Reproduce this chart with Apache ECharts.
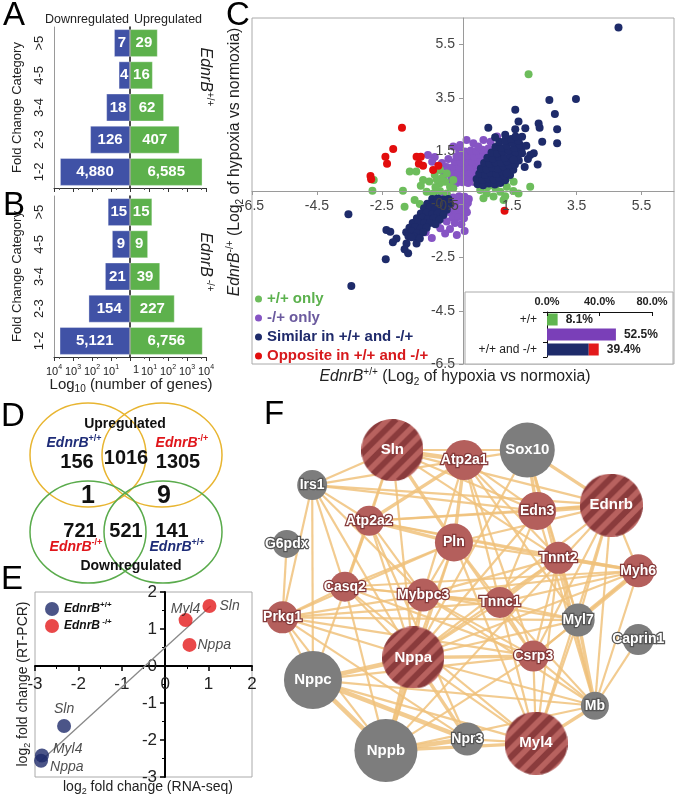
<!DOCTYPE html>
<html><head><meta charset="utf-8">
<script src="https://cdn.jsdelivr.net/npm/echarts@6/dist/echarts.min.js"></script>
<style>html,body{margin:0;padding:0;background:#fff}#c{width:677px;height:795px}</style>
</head><body><div id="c"></div>
<script>
const FONT = '"Liberation Sans", Arial, Helvetica, sans-serif';

// ---------- Panels A & B : pyramid of fold-change categories ----------
const foldCategories = ['1-2', '2-3', '3-4', '4-5', '>5'];
const wtDown = [4880, 126, 18, 4, 7];
const wtUp = [6585, 407, 62, 16, 29];
const koDown = [5121, 154, 21, 9, 15];
const koUp = [6756, 227, 39, 9, 15];

// ---------- Panel C : scatter (log2 hypoxia vs normoxia) ----------
const cAxisTicks = [-6.5, -4.5, -2.5, -0.5, 1.5, 3.5, 5.5];
const cPurple = [
  [-0.38,0.32],[-0.2,0.3],[-0.02,0.33],[0.16,0.3],[0.34,0.34],[0.5,0.3],
  [-0.36,0.5],[-0.18,0.52],[0.0,0.49],[0.18,0.53],[0.36,0.5],[0.52,0.55],
  [-0.33,0.7],[-0.15,0.68],[0.03,0.72],[0.21,0.7],[0.39,0.74],[0.55,0.72],
  [-0.3,0.9],[-0.12,0.88],[0.06,0.92],[0.24,0.9],[0.42,0.93],[0.6,0.95],
  [-0.25,1.1],[-0.07,1.08],[0.11,1.12],[0.29,1.1],[0.47,1.14],[0.65,1.15],
  [-0.2,1.3],[-0.02,1.28],[0.16,1.32],[0.34,1.3],[0.52,1.35],[0.7,1.38],
  [-0.12,1.5],[0.06,1.48],[0.24,1.52],[0.42,1.5],[0.6,1.55],[0.78,1.6],
  [-0.3,1.67],[-0.09,1.73],[0.11,1.92],[0.32,1.79],[0.47,1.67],[0.63,1.92],[0.85,1.85],[1.05,2.05],
  [-0.5,0.9],[-0.65,1.05],[-0.87,1.28],[-1.08,1.35],[-0.72,0.82],[-0.45,1.2],[-0.95,1.1],[-0.58,0.62],
  [-0.65,-0.22],[-0.48,-0.2],[-0.3,-0.24],[-0.12,-0.2],[0.05,-0.22],[0.18,-0.3],
  [-0.55,-0.4],[-0.38,-0.42],[-0.2,-0.38],[-0.02,-0.42],[0.15,-0.45],
  [-0.45,-0.6],[-0.28,-0.58],[-0.1,-0.62],[0.08,-0.6],
  [-0.4,-0.8],[-0.22,-0.78],[-0.04,-0.82],[0.12,-0.8],
  [-0.32,-1.0],[-0.14,-0.98],[0.03,-1.02],
  [-0.5,-1.15],[-0.25,-1.2],[-0.05,-1.25],
  [-0.4,-1.43],[-0.19,-1.65],[-0.96,-1.77],[-0.7,-1.4],[-0.55,-1.6],[0.05,-1.5],[-1.15,-1.55],[-0.8,-1.2]
];
const cGreen = [
  [-1.64,0.73],[-1.44,0.73],[-1.23,0.41],[-1.04,0.36],[-0.87,0.6],[-0.71,0.29],[-1.12,-0.03],
  [-0.92,-0.09],[-0.71,0.0],[-0.5,-0.09],[-0.4,0.16],[-0.55,0.35],[-0.65,0.49],[-0.81,0.43],
  [-0.3,0.41],[-0.5,0.66],[-0.71,0.79],[-1.85,0.01],[-2.79,0.01],[-2.75,0.41],[-1.33,-0.49],
  [-1.49,-0.34],[-1.8,-0.59],[-0.3,0.1],[-0.85,0.15],[-1.3,0.2],
  [0.53,0.04],[0.73,-0.09],[0.94,-0.21],[1.15,-0.03],[1.35,0.16],[1.56,0.35],[0.63,-0.27],
  [0.84,0.23],[1.09,0.35],[1.71,-0.09],[2.07,0.16],[2.02,4.39],[1.4,0.54],[0.45,0.3],[1.25,-0.34],
  [1.0,0.1],[1.3,-0.2],[1.55,0.0],[0.75,0.15]
];
const cNavy = [
  [0.45,0.25],[0.62,0.22],[0.8,0.28],[0.98,0.24],[1.15,0.3],[1.3,0.4],
  [0.42,0.45],[0.6,0.42],[0.78,0.48],[0.95,0.44],[1.12,0.5],[1.28,0.56],[1.45,0.6],
  [0.5,0.65],[0.68,0.62],[0.85,0.68],[1.02,0.64],[1.2,0.72],[1.38,0.78],[1.55,0.8],
  [0.55,0.85],[0.72,0.82],[0.9,0.88],[1.08,0.85],[1.25,0.92],[1.42,0.98],[1.6,1.0],[1.72,1.15],
  [0.65,1.05],[0.82,1.02],[1.0,1.08],[1.18,1.05],[1.35,1.12],[1.52,1.18],[1.68,1.3],
  [0.75,1.25],[0.92,1.22],[1.1,1.28],[1.28,1.25],[1.45,1.35],[1.62,1.45],[1.8,1.55],
  [0.88,1.45],[1.05,1.42],[1.22,1.48],[1.4,1.52],[1.58,1.62],[1.75,1.75],
  [1.0,1.65],[1.18,1.62],[1.35,1.7],[1.52,1.8],[1.7,1.9],
  [1.12,1.85],[1.3,1.9],[1.48,1.95],[1.62,2.05],
  [4.79,6.14],[3.48,3.46],[2.66,3.42],[1.61,3.05],[2.83,2.89],[2.9,2.32],[2.9,1.79],[2.33,2.54],
  [2.36,2.38],[2.44,1.85],[2.18,1.42],[2.07,1.35],[2.3,1.0],[0.78,2.38],[1.61,2.32],[1.71,2.61],
  [1.92,2.36],[0.99,2.02],[1.3,2.11],[1.82,2.04],[1.82,1.42],[1.56,1.17],[1.35,0.67],[1.95,1.7],
  [2.0,1.2],[1.9,0.9],
  [-0.95,-0.3],[-0.78,-0.28],[-0.6,-0.32],[-0.45,-0.3],
  [-1.1,-0.48],[-0.92,-0.45],[-0.75,-0.5],[-0.58,-0.48],[-0.42,-0.5],
  [-1.2,-0.65],[-1.02,-0.62],[-0.85,-0.68],[-0.68,-0.65],[-0.5,-0.7],
  [-1.3,-0.85],[-1.12,-0.82],[-0.95,-0.88],[-0.78,-0.85],[-0.6,-0.9],
  [-1.42,-1.02],[-1.25,-1.0],[-1.08,-1.05],[-0.9,-1.02],[-0.72,-1.08],
  [-1.55,-1.2],[-1.38,-1.18],[-1.2,-1.22],[-1.02,-1.2],[-0.85,-1.25],
  [-1.65,-1.38],[-1.48,-1.35],[-1.3,-1.4],[-1.12,-1.38],
  [-1.75,-1.55],[-1.58,-1.52],[-1.4,-1.58],[-1.22,-1.55],
  [-1.68,-1.7],[-1.5,-1.72],
  [-2.36,-1.47],[-2.24,-1.53],[-2.05,-1.78],[-2.16,-1.93],[-1.74,-1.97],[-1.8,-2.19],[-1.69,-2.34],
  [-1.59,-1.74],[-1.43,-1.97],[-1.33,-1.78],[-2.38,-2.56],[-3.53,-0.87],[-3.44,-3.57]
];
const cRed = [
  [-1.88,2.38],[-2.15,1.58],[-2.39,1.29],[-2.34,1.02],[-2.85,0.56],[-2.83,0.44],
  [-1.43,1.29],[-1.3,1.29],[-1.36,1.02],[-1.23,0.95],[-0.92,0.79],[-0.76,0.95],[1.28,-0.74]
];
// inset of panel C (percent of genes)
const insetCategories = ['+/+', '-/+', '+/+ and -/+'];
const insetWT = [8.1, null, null];
const insetKO = [null, 52.5, null];
const insetSimilar = [null, null, 31.8];
const insetOpposite = [null, null, 7.6];
const insetTotals = [8.1, 52.5, 39.4];

// ---------- Panel D : Venn counts ----------
const vennNumbers = [156, 1016, 1305, 1, 9, 721, 521, 141];

// ---------- Panel E : RT-PCR vs RNA-seq ----------
const eGenes = ['Sln', 'Myl4', 'Nppa'];
const eWtRna = [-2.33, -2.84, -2.86];
const eWtPcr = [-1.62, -2.42, -2.56];
const eKoRna = [1.02, 0.47, 0.56];
const eKoPcr = [1.62, 1.24, 0.57];
const eFitX = [-2.9, 1.05];
const eFitY = [-2.6, 1.62];

// ---------- Panel F : network ----------
const fGenes = ['Sln','Atp2a1','Sox10','Irs1','Atp2a2','Edn3','Ednrb','G6pdx','Pln','Tnnt2','Myh6','Casq2','Mybpc3','Tnnc1','Prkg1','Myl7','Caprin1','Nppa','Csrp3','Nppc','Mb','Nppb','Npr3','Myl4'];
const fX = [32.2,51.1,67.7,11.1,26.1,70.3,89.8,4.4,48.4,75.9,96.9,19.7,40.3,60.5,3.3,81.1,96.9,37.7,69.3,11.3,85.5,30.5,51.9,70.0];
const fY = [5.9,8.8,5.9,16.2,26.7,23.8,22.1,33.5,33.1,37.6,41.4,46.1,48.5,50.7,55.1,55.9,61.6,66.9,66.5,73.5,81.1,94.3,90.9,92.1];
const fWeight = [62,40,55,30,30,38,63,28,38,32,33,30,33,31,32,33,31,62,31,58,28,63,33,63];
const fKind = ['s','r','g','g','r','r','s','g','r','r','r','r','r','r','r','g','g','s','r','g','g','g','g','s'];
const fEdges = [
['Sln','Atp2a1',3],['Sln','Irs1',1],['Sln','Atp2a2',1],['Sln','Pln',2],['Sln','Sox10',1],['Sln','Edn3',1],['Sln','Ednrb',1],['Sln','Tnnt2',1],['Sln','Casq2',1],['Sln','Nppa',1],
['Atp2a1','Sox10',1],['Atp2a1','Pln',2],['Atp2a1','Atp2a2',2],['Atp2a1','Tnnt2',1],['Atp2a1','Csrp3',1],['Atp2a1','Tnnc1',1],['Atp2a1','Mybpc3',1],['Atp2a1','Myl7',1],['Atp2a1','Edn3',1],['Atp2a1','Irs1',1],
['Sox10','Edn3',2],['Sox10','Ednrb',2],['Sox10','Myl7',1],['Sox10','Nppa',1],['Sox10','Tnnt2',1],['Sox10','Mb',1],
['Edn3','Ednrb',3],['Edn3','Irs1',1],['Edn3','Atp2a2',1],['Edn3','Nppa',1],['Edn3','Tnnc1',1],['Edn3','Mb',1],
['Ednrb','Irs1',1],['Ednrb','Myh6',1],['Ednrb','Nppa',1],['Ednrb','Csrp3',1],['Ednrb','Myl7',1],['Ednrb','Nppb',1],['Ednrb','Myl4',1],['Ednrb','Pln',1],['Ednrb','Mb',1],['Ednrb','Atp2a2',1],
['Irs1','Atp2a2',1],['Irs1','Prkg1',1],['Irs1','Casq2',1],['Irs1','Mybpc3',1],['Irs1','Nppa',1],['Irs1','Nppc',1],
['G6pdx','Prkg1',1],
['Atp2a2','Pln',2],['Atp2a2','Casq2',1],['Atp2a2','Tnnt2',1],['Atp2a2','Mybpc3',1],['Atp2a2','Nppa',1],['Atp2a2','Npr3',1],['Atp2a2','Myh6',1],['Atp2a2','Nppc',1],
['Pln','Tnnc1',1],['Pln','Mybpc3',1],['Pln','Nppa',1],['Pln','Myh6',1],['Pln','Csrp3',1],['Pln','Casq2',1],['Pln','Prkg1',1],['Pln','Myl4',1],['Pln','Nppb',1],
['Tnnt2','Myh6',2],['Tnnt2','Tnnc1',2],['Tnnt2','Myl7',1],['Tnnt2','Mb',1],['Tnnt2','Nppa',1],['Tnnt2','Mybpc3',1],['Tnnt2','Csrp3',1],['Tnnt2','Myl4',1],
['Myh6','Myl7',3],['Myh6','Nppa',1],['Myh6','Csrp3',1],['Myh6','Mb',1],['Myh6','Mybpc3',1],['Myh6','Tnnc1',1],['Myh6','Casq2',1],
['Casq2','Prkg1',1],['Casq2','Mybpc3',1],['Casq2','Tnnc1',1],['Casq2','Nppa',1],['Casq2','Nppb',1],['Casq2','Csrp3',1],['Casq2','Myl4',1],
['Mybpc3','Tnnc1',2],['Mybpc3','Nppa',1],['Mybpc3','Myl7',1],['Mybpc3','Csrp3',1],['Mybpc3','Prkg1',1],['Mybpc3','Mb',1],['Mybpc3','Nppb',1],
['Tnnc1','Csrp3',1],['Tnnc1','Myl7',1],['Tnnc1','Nppa',1],['Tnnc1','Myl4',1],['Tnnc1','Prkg1',1],['Tnnc1','Mb',1],
['Prkg1','Nppa',1],['Prkg1','Nppc',1],['Prkg1','Nppb',1],['Prkg1','Csrp3',1],['Prkg1','Myl7',1],['Prkg1','Npr3',1],
['Myl7','Csrp3',1],['Myl7','Mb',2],['Myl7','Nppa',1],['Myl7','Myl4',1],
['Caprin1','Mb',1],
['Nppa','Nppb',3],['Nppa','Nppc',3],['Nppa','Npr3',2],['Nppa','Myl4',1],['Nppa','Csrp3',2],['Nppa','Mb',1],
['Csrp3','Myl4',1],['Csrp3','Mb',1],['Csrp3','Nppb',1],['Csrp3','Nppc',1],
['Nppc','Nppb',3],['Nppc','Npr3',3],['Nppc','Myl4',1],['Nppc','Mb',1],
['Nppb','Npr3',3],['Nppb','Myl4',2],['Nppb','Mb',1],
['Npr3','Myl4',1],['Mb','Myl4',2]
];

// ================= styling helpers =================
const BLUE = '#4052a6', GREEN = '#5db14c';
const C_GREEN = '#6dbd5c', C_PURPLE = '#8654c4', C_NAVY = '#1e2b6a', C_RED = '#e20d0d';
const NAVY_TXT = '#1f2d78', RED_TXT = '#e0161b';

function fmt(n) { return String(n).replace(/\B(?=(\d{3})+(?!\d))/g, ','); }

function zrRich(size, color, weight) {
  weight = weight || 'normal';
  const s = Math.round(size * 0.64);
  return {
    n: {fontFamily: FONT, fontSize: size, fontWeight: weight, fill: color, lineHeight: size + 4},
    i: {fontFamily: FONT, fontSize: size, fontWeight: weight, fontStyle: 'italic', fill: color, lineHeight: size + 4},
    sup: {fontFamily: FONT, fontSize: s, fontWeight: weight, fill: color, lineHeight: s, verticalAlign: 'top'},
    sub: {fontFamily: FONT, fontSize: s, fontWeight: weight, fill: color, lineHeight: s, verticalAlign: 'bottom'}
  };
}
function ecRich(size, color, weight, italic) {
  const s = Math.round(size * 0.64);
  return {
    i: {fontFamily: FONT, fontSize: size, fontWeight: weight, fontStyle: italic ? 'italic' : 'normal', color, lineHeight: size + 4},
    sup: {fontFamily: FONT, fontSize: s, fontWeight: weight, color, lineHeight: s, verticalAlign: 'top'}
  };
}

const graphics = [];
function addText(x, y, text, size, color, o) {
  o = o || {};
  graphics.push({
    type: 'text', x, y, rotation: o.rot || 0, z: 50, silent: true,
    style: {text, fontFamily: FONT, fontSize: size, fontWeight: o.weight || 'normal',
      fill: color, align: 'center', verticalAlign: 'middle', rich: zrRich(size, color, o.weight)}
  });
}
function addEllipse(cx, cy, rx, ry, color) {
  graphics.push({type: 'ellipse', silent: true, z: 5, shape: {cx, cy, rx, ry},
    style: {fill: 'none', stroke: color, lineWidth: 1.5}});
}

// panel letters
addText(14, 16, 'A', 33, '#000');
addText(14, 206, 'B', 33, '#000');
addText(238, 16, 'C', 33, '#000');
addText(13, 417, 'D', 33, '#000');
addText(12, 580, 'E', 33, '#000');
addText(274, 415, 'F', 33, '#000');

// A/B headers & side labels
addText(87, 20, 'Downregulated', 12.5, '#222');
addText(168, 20, 'Upregulated', 12.5, '#222');
addText(205, 77, '{i|EdnrB}{sup|+/+}', 16, '#222', {rot: -Math.PI / 2});
addText(205, 262, '{i|EdnrB}{sup| -/+}', 16, '#222', {rot: -Math.PI / 2});
addText(131, 385, '{n|Log}{sub|10}{n| (number of genes)}', 15, '#222');

// C axis names and inset frame
addText(455, 377, '{i|EdnrB}{sup|+/+}{n| (Log}{sub|2}{n| of hypoxia vs normoxia)}', 15.8, '#222');
addText(235, 162, '{i|EdnrB}{sup|-/+}{n| (Log}{sub|2}{n| of hypoxia vs normoxia)}', 15.8, '#222', {rot: Math.PI / 2});
graphics.push({type: 'rect', silent: true, z: 1, shape: {x: 465, y: 292, width: 208, height: 72},
  style: {fill: '#fff', stroke: '#aaa', lineWidth: 1}});

// D Venn diagram
addEllipse(88, 455, 58, 52, '#e8b531');
addEllipse(162, 455, 60, 52, '#e8b531');
addEllipse(88, 532, 58, 51, '#5aab4c');
addEllipse(163, 532, 59, 51, '#5aab4c');
addText(125, 424, 'Upregulated', 14, '#111', {weight: 'bold'});
addText(131, 566, 'Downregulated', 14, '#111', {weight: 'bold'});
addText(74, 443, '{i|EdnrB}{sup|+/+}', 14, NAVY_TXT, {weight: 'bold'});
addText(182, 443, '{i|EdnrB}{sup|-/+}', 14, RED_TXT, {weight: 'bold'});
addText(76, 547, '{i|EdnrB}{sup|-/+}', 14, RED_TXT, {weight: 'bold'});
addText(177, 547, '{i|EdnrB}{sup|+/+}', 14, NAVY_TXT, {weight: 'bold'});
const vennPos = [[77, 462], [126, 458], [178, 462], [88, 496], [164, 496], [80, 531], [126, 531], [172, 531]];
const vennSize = [20, 20, 20, 25, 25, 20, 20, 20];
vennNumbers.forEach((v, k) => addText(vennPos[k][0], vennPos[k][1], String(v), vennSize[k], '#111', {weight: 'bold'}));

// E axis names
addText(23, 684, '{n|log}{sub|2}{n| fold change (RT-PCR)}', 14, '#222', {rot: Math.PI / 2});
addText(148, 787, '{n|log}{sub|2}{n| fold change (RNA-seq)}', 14, '#222');

// ================= axes =================
function logAxis(gi, inverse, showLabels) {
  return {
    type: 'log', gridIndex: gi, min: 1, max: 10000, logBase: 10, inverse,
    axisLine: {show: true, lineStyle: {color: '#333'}},
    axisTick: {show: true, length: 4, lineStyle: {color: '#333'}},
    minorTick: {show: true, splitNumber: 2, length: 2, lineStyle: {color: '#555'}},
    splitLine: {show: false},
    axisLabel: {
      show: showLabels, fontFamily: FONT, fontSize: 11, color: '#222', margin: 7,
      alignMinLabel: inverse ? 'right' : 'left',
      formatter: v => v === 1 ? '{one|1}' : '{i|10}{sup|' + Math.round(Math.log10(v)) + '}',
      rich: Object.assign(ecRich(11, '#222', 'normal', false), {
        one: {fontFamily: FONT, fontSize: 11, color: '#222', padding: inverse ? [0, 12, 0, 0] : [0, 0, 0, 3]}
      })
    }
  };
}
function catAxis(gi, main) {
  return {
    type: 'category', gridIndex: gi, data: foldCategories,
    axisLine: {show: true, lineStyle: main ? {color: '#999'} : {color: '#111', width: 1.5}},
    axisTick: {show: false},
    axisLabel: main ? {show: true, rotate: 90, fontFamily: FONT, fontSize: 13, color: '#222', margin: 8} : {show: false},
    name: main ? 'Fold Change Category' : '',
    nameLocation: 'middle', nameGap: 30, nameRotate: 90,
    nameTextStyle: {fontFamily: FONT, fontSize: 13, color: '#222'}
  };
}
function pyramidBar(idx, data, color) {
  return {
    type: 'bar', xAxisIndex: idx, yAxisIndex: idx, data, barWidth: 28, silent: true,
    itemStyle: {color, borderColor: 'rgba(255,255,255,0.35)', borderWidth: 1},
    label: {show: true, position: 'inside', color: '#fff', fontFamily: FONT, fontWeight: 'bold', fontSize: 15,
      formatter: p => fmt(p.value)}
  };
}

// C axes: lines pass through the origin (offset from grid edge)
function cAxis(offset) {
  return {
    type: 'value', gridIndex: 4, min: -6.5, max: 6.5, offset, z: 4,
    axisLine: {onZero: false, lineStyle: {color: '#9a9a9a'}},
    axisTick: {show: true, length: 4, customValues: cAxisTicks, lineStyle: {color: '#9a9a9a'}},
    axisLabel: {fontFamily: FONT, fontSize: 14, color: '#444', customValues: cAxisTicks, margin: 8},
    splitLine: {show: false}
  };
}
function eAxis(offset, margin) {
  return {
    type: 'value', gridIndex: 6, min: -3, max: 2, interval: 1, offset,
    axisLine: {onZero: false, lineStyle: {color: '#000', width: 2}},
    axisTick: {show: true, length: 5, lineStyle: {color: '#000', width: 1.5}},
    minorTick: {show: true, splitNumber: 2, length: 3, lineStyle: {color: '#000'}},
    axisLabel: {fontFamily: FONT, fontSize: 17, color: '#222', margin},
    splitLine: {show: false}
  };
}

// ================= series =================
const series = [
  pyramidBar(0, wtDown, BLUE), pyramidBar(1, wtUp, GREEN),
  pyramidBar(2, koDown, BLUE), pyramidBar(3, koUp, GREEN)
];
function cScatter(name, data, color) {
  return {type: 'scatter', name, xAxisIndex: 4, yAxisIndex: 4, data, symbolSize: 8, silent: true,
    itemStyle: {color, opacity: 1}};
}
series.push(cScatter('-/+ only', cPurple, C_PURPLE));
series.push(cScatter('+/+ only', cGreen, C_GREEN));
series.push(cScatter('Similar in +/+ and -/+', cNavy, C_NAVY));
series.push(cScatter('Opposite in +/+ and -/+', cRed, C_RED));

function insetBar(data, color, withLabel) {
  return {type: 'bar', xAxisIndex: 5, yAxisIndex: 5, stack: 'inset', data, barWidth: 12, silent: true, z: 6,
    itemStyle: {color},
    label: {show: withLabel, position: 'right', distance: 8, fontFamily: FONT, fontWeight: 'bold', fontSize: 12, color: '#222',
      formatter: p => insetTotals[p.dataIndex].toFixed(1) + '%'}};
}
series.push(insetBar(insetWT, '#5fb54f', true));
series.push(insetBar(insetKO, '#7a3fb8', true));
series.push(insetBar(insetSimilar, '#1e2b6a', false));
series.push(insetBar(insetOpposite, '#e31a1c', true));

const eLabelPosWt = [{position: 'top', distance: 3}, {position: 'right', distance: 4, offset: [0, -6]}, {position: 'right', distance: 2, offset: [0, 6]}];
const eLabelPosKo = [{position: 'right', distance: 3}, {position: 'top', distance: -3}, {position: 'right', distance: 1}];
const eLabel = {show: true, fontFamily: FONT, fontSize: 14, fontStyle: 'italic', color: '#222', formatter: p => eGenes[p.dataIndex]};
series.push({type: 'line', xAxisIndex: 6, yAxisIndex: 6, data: eFitX.map((x, k) => [x, eFitY[k]]), symbol: 'none', silent: true,
  lineStyle: {color: '#888', width: 1.3}, z: 1});
series.push({type: 'scatter', name: 'e_wt', xAxisIndex: 6, yAxisIndex: 6, symbolSize: 14, silent: true,
  itemStyle: {color: '#1e2b6a'}, label: eLabel,
  data: eWtRna.map((x, k) => ({value: [x, eWtPcr[k]], label: eLabelPosWt[k]}))});
series.push({type: 'scatter', name: 'e_ko', xAxisIndex: 6, yAxisIndex: 6, symbolSize: 14, silent: true,
  itemStyle: {color: '#e31a1c'}, label: eLabel,
  data: eKoRna.map((x, k) => ({value: [x, eKoPcr[k]], label: eLabelPosKo[k]}))});

// network: striped circle symbol for validated genes
function stripedCircleSymbol() {
  const S = 128, c = document.createElement('canvas');
  c.width = S; c.height = S;
  const g = c.getContext('2d');
  g.beginPath(); g.arc(S / 2, S / 2, S / 2, 0, Math.PI * 2); g.closePath(); g.clip();
  g.fillStyle = '#b8625f'; g.fillRect(0, 0, S, S);
  g.strokeStyle = '#8a3b3c'; g.lineWidth = 12;
  g.beginPath();
  for (let o = -S + 6; o < 2 * S; o += 33) { g.moveTo(o, S); g.lineTo(o + S, 0); }
  g.stroke();
  return 'image://' + c.toDataURL();
}
const stripedSymbol = stripedCircleSymbol();
const kindColor = {r: '#b45f5c', g: '#7d7d7d', s: '#a4504e'};
const kindBorder = {r: '#853a3a', g: '#555', s: '#7a3434'};
const fNodes = fGenes.map((name, k) => ({
  name, value: [fX[k], fY[k]], symbolSize: fWeight[k],
  symbol: fKind[k] === 's' ? stripedSymbol : 'circle',
  itemStyle: {color: kindColor[fKind[k]]},
  label: {show: true, position: 'inside', color: '#fff', fontFamily: FONT, fontWeight: 'bold',
    fontSize: fWeight[k] > 50 ? 15 : 14,
    textBorderColor: fWeight[k] > 50 ? 'transparent' : kindBorder[fKind[k]], textBorderWidth: fWeight[k] > 50 ? 0 : 2.5}
}));
const fLinks = fEdges.map(e => ({source: e[0], target: e[1], lineStyle: {width: 1 + e[2] * 1.2}}));
series.push({
  type: 'graph', coordinateSystem: 'cartesian2d', xAxisIndex: 7, yAxisIndex: 7, silent: true, z: 3,
  data: fNodes, links: fLinks,
  lineStyle: {color: '#f0c27d', opacity: 0.85, curveness: 0},
  emphasis: {disabled: true}
});

const option = {
  animation: false,
  textStyle: {fontFamily: FONT},
  grid: [
    {left: 54, top: 27, width: 76, height: 161},
    {left: 130, top: 27, width: 76, height: 161},
    {left: 54, top: 196, width: 76, height: 161},
    {left: 130, top: 196, width: 76, height: 161},
    {left: 252, top: 18, width: 422, height: 346, show: true, borderColor: '#aaa', borderWidth: 1},
    {left: 547, top: 312, width: 105, height: 45},
    {left: 35, top: 592, width: 217, height: 185, show: true, borderColor: '#aaa', borderWidth: 1},
    {left: 270, top: 430, width: 380, height: 340}
  ],
  xAxis: [
    logAxis(0, true, false), logAxis(1, false, false), logAxis(2, true, true), logAxis(3, false, true),
    cAxis(-173),
    {type: 'value', gridIndex: 5, min: 0, max: 80, interval: 40, position: 'top', z: 6,
      axisLine: {show: true, lineStyle: {color: '#111'}}, axisTick: {show: true, inside: true, length: 4, lineStyle: {color: '#111'}},
      axisLabel: {fontFamily: FONT, fontSize: 11, fontWeight: 'bold', color: '#222', margin: 5, formatter: v => v.toFixed(1) + '%'},
      splitLine: {show: false}},
    eAxis(-111, 10),
    {type: 'value', gridIndex: 7, min: 0, max: 100, show: false}
  ],
  yAxis: [
    catAxis(0, true), catAxis(1, false), catAxis(2, true), catAxis(3, false),
    cAxis(-211),
    {type: 'category', gridIndex: 5, data: insetCategories, inverse: true, z: 6,
      axisLine: {show: true, lineStyle: {color: '#111'}}, axisTick: {show: true, length: 4, lineStyle: {color: '#111'}},
      axisLabel: {fontFamily: FONT, fontSize: 12, color: '#222', margin: 10}},
    eAxis(-130, 8),
    {type: 'value', gridIndex: 7, min: 0, max: 100, inverse: true, show: false}
  ],
  legend: [
    {left: 250, top: 286, orient: 'vertical', itemWidth: 7, itemHeight: 7, itemGap: 3, icon: 'circle', selectedMode: false,
      textStyle: {fontFamily: FONT, fontSize: 15, fontWeight: 'bold', lineHeight: 16},
      data: [
        {name: '+/+ only', textStyle: {color: '#5cb14e'}},
        {name: '-/+ only', textStyle: {color: '#6b5a9e'}},
        {name: 'Similar in +/+ and -/+', textStyle: {color: '#1f2a6b'}},
        {name: 'Opposite in +/+ and -/+', textStyle: {color: '#d7191c'}}
      ]},
    {left: 40, top: 596, orient: 'vertical', itemWidth: 14, itemHeight: 14, itemGap: 2, icon: 'circle', selectedMode: false,
      data: ['e_wt', 'e_ko'],
      formatter: n => n === 'e_wt' ? '{i|EdnrB}{sup|+/+}' : '{i|EdnrB}{sup| -/+}',
      textStyle: {fontFamily: FONT, fontSize: 12, fontWeight: 'bold', color: '#111', rich: ecRich(12, '#111', 'bold', true)}}
  ],
  series,
  graphic: graphics
};

const chart = echarts.init(document.getElementById('c'), null, {renderer: 'canvas'});
chart.setOption(option);
</script>
</body></html>
